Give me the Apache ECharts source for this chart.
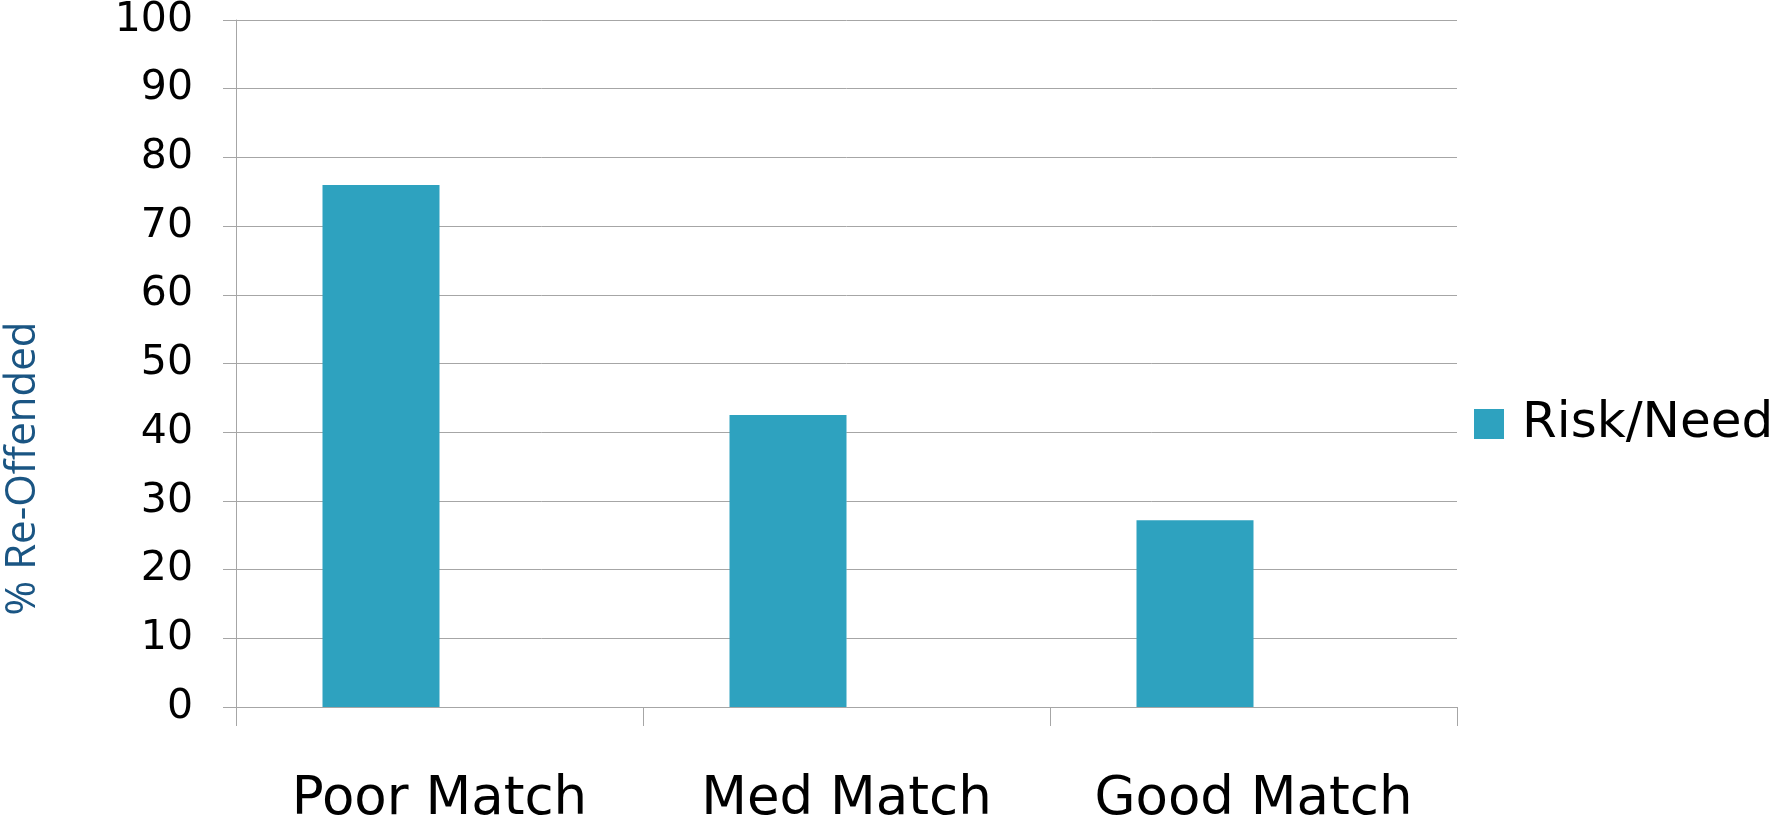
<!DOCTYPE html>
<html>
<head>
<meta charset="utf-8">
<script src="https://cdn.jsdelivr.net/npm/echarts@6/dist/echarts.min.js"></script>
<style>
  html, body { margin: 0; padding: 0; background: #ffffff; }
  #chart { width: 1775px; height: 824px; }
</style>
</head>
<body>
<div id="chart"></div>
<script>
// Re-offense rates by risk/need match level
const categories = ['Poor Match', 'Med Match', 'Good Match'];
const riskNeed = [76, 42.5, 27.2];
// empty companion series: reserves the second slot in each category
const companion = [null, null, null];
const yTicks = { min: 0, max: 100, interval: 10 };

const axisGray = '#a6a6a6';
const barColor = '#2ea2bf';
const fontFamily = 'DejaVu Sans, sans-serif';

const chart = echarts.init(document.getElementById('chart'), null, { renderer: 'canvas' });

chart.setOption({
  backgroundColor: '#ffffff',
  animation: false,
  grid: {
    left: 236, right: 318, top: 20, bottom: 117,
    containLabel: false,
    outerBoundsMode: 'none'
  },
  legend: {
    data: ['Risk/Need'],
    orient: 'vertical',
    left: 1469,
    top: 394,
    icon: 'rect',
    itemWidth: 30,
    itemHeight: 30,
    textStyle: {
      fontFamily: fontFamily,
      fontSize: 50,
      color: '#000000',
      lineHeight: 50,
      padding: [0, 0, 0, 13]
    }
  },
  xAxis: {
    type: 'category',
    data: categories,
    axisLine: { show: true, lineStyle: { color: axisGray, width: 1 } },
    axisTick: { show: true, length: 19, lineStyle: { color: axisGray, width: 1 } },
    axisLabel: {
      interval: 0,
      hideOverlap: false,
      fontFamily: fontFamily,
      fontSize: 53,
      color: '#000000',
      margin: 67
    },
    splitLine: { show: false }
  },
  yAxis: {
    type: 'value',
    min: yTicks.min,
    max: yTicks.max,
    interval: yTicks.interval,
    name: '% Re-Offended',
    nameLocation: 'middle',
    nameRotate: 90,
    nameGap: 192,
    nameTextStyle: {
      fontFamily: 'Open Sans, sans-serif',
      fontSize: 42,
      color: '#1a5583',
      padding: [0, 210, 0, 0]
    },
    axisLine: { show: true, lineStyle: { color: axisGray, width: 1 } },
    axisTick: { show: true, length: 13, lineStyle: { color: axisGray, width: 1 } },
    axisLabel: {
      fontFamily: fontFamily,
      fontSize: 41,
      color: '#000000',
      margin: 43
    },
    splitLine: { show: true, lineStyle: { color: axisGray, width: 1 } }
  },
  series: [
    {
      name: 'Risk/Need',
      type: 'bar',
      data: riskNeed,
      barWidth: 117,
      barGap: '0%',
      itemStyle: { color: barColor }
    },
    {
      name: 'companion',
      type: 'bar',
      data: companion,
      barWidth: 117,
      barGap: '0%',
      itemStyle: { color: barColor }
    }
  ]
});
</script>
</body>
</html>
